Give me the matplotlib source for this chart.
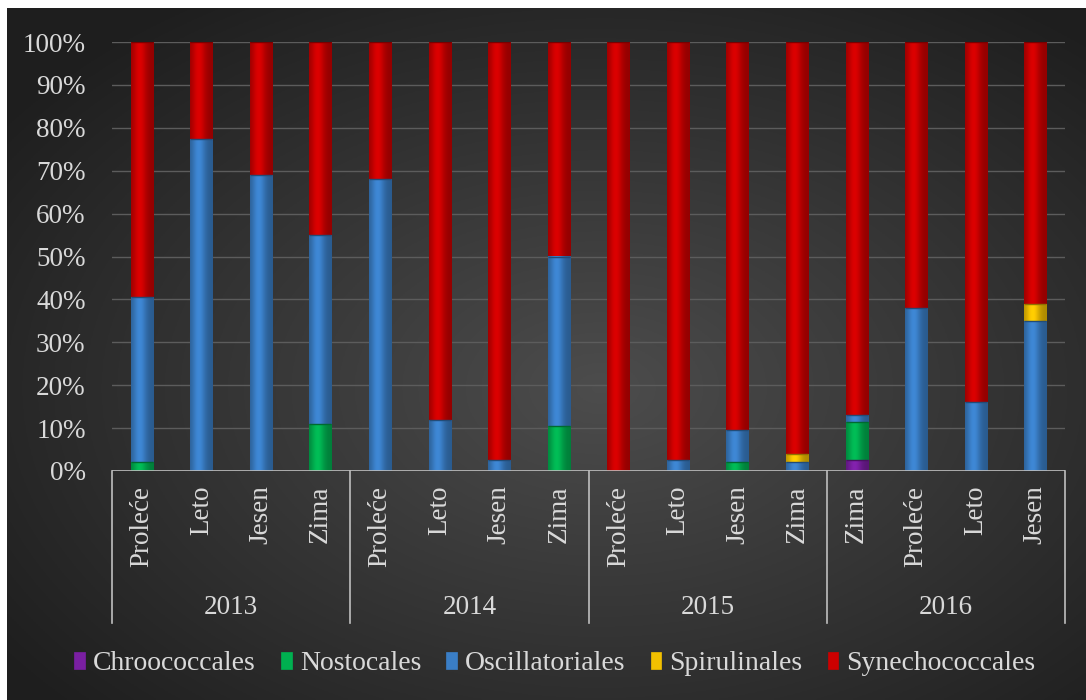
import numpy as np
import matplotlib.pyplot as plt
from matplotlib.colors import to_rgb

seasons = ["Proleće", "Leto", "Jesen", "Zima",
           "Proleće", "Leto", "Jesen", "Zima",
           "Proleće", "Leto", "Jesen", "Zima",
           "Zima", "Proleće", "Leto", "Jesen"]
years = ["2013", "2014", "2015", "2016"]

series_names = ["Chroococcales", "Nostocales", "Oscillatoriales", "Spirulinales", "Synechococcales"]
chroococcales   = [0, 0, 0, 0,    0, 0, 0, 0,      0, 0, 0, 0,      2.5, 0, 0, 0]
nostocales      = [2, 0, 0, 11,   0, 0, 0, 10.5,   0, 0, 2, 0,      9, 0, 0, 0]
oscillatoriales = [38.5, 77.5, 69, 44,  68, 12, 2.5, 39.5,  0, 2.5, 7.5, 2,  1.5, 38, 16, 35]
spirulinales    = [0, 0, 0, 0,    0, 0, 0, 0,      0, 0, 0, 2,      0, 0, 0, 4]
synechococcales = [59.5, 22.5, 31, 45,  32, 88, 97.5, 50,  100, 97.5, 90.5, 96,  87, 62, 84, 61]

colors = ["#7A1FA2", "#00B050", "#3A7EC6", "#F2C000", "#CC0000"]
text_col = "#D9D9D9"
serif = ["Liberation Serif", "DejaVu Serif"]
fs = 19.5

fig = plt.figure(figsize=(10.86, 7.0), dpi=100, facecolor="white")

# dark radial-gradient panel
bg = fig.add_axes([7 / 1086, 0, 1 - 7 / 1086, 1 - 8 / 700])
yy, xx = np.mgrid[0:1:300j, 0:1:450j]
r = np.sqrt(((xx - 0.55) / 0.75) ** 2 + ((yy - 0.45) / 0.75) ** 2)
shade = np.clip(0.30 - 0.20 * r, 0.12, 0.32)
bg.imshow(np.dstack([shade] * 3), aspect="auto", extent=[0, 1, 0, 1], origin="lower")
bg.set_axis_off()

ax = fig.add_axes([112 / 1086, 229 / 700, (1065 - 112) / 1086, (471 - 42) / 700])
ax.set_facecolor("none")

x = np.arange(len(seasons))
stack = [chroococcales, nostocales, oscillatoriales, spirulinales, synechococcales]
bottom = np.zeros(len(seasons))
handles = []
# cylinder-like shading across each bar
t = np.linspace(0, 1, 64)
profile = 0.72 + 0.36 * np.exp(-((t - 0.38) / 0.3) ** 2)
for name, vals, c in zip(series_names, stack, colors):
    vals = np.array(vals, dtype=float)
    b = ax.bar(x, vals, 0.37, bottom=bottom, color=c, edgecolor=c, linewidth=0.5,
               label=name, zorder=3)
    handles.append(b)
    rgb = np.array(to_rgb(c))
    grad = np.clip(profile[:, None] * rgb[None, :], 0, 1)[None, :, :]
    for p in b.patches:
        h = p.get_height()
        if h <= 0:
            continue
        x0, y0, w = p.get_x(), p.get_y(), p.get_width()
        ax.imshow(grad, extent=[x0, x0 + w, y0, y0 + h], aspect="auto",
                  interpolation="bilinear", zorder=3.5)
        # thin darker seam at the top of each segment
        ax.plot([x0, x0 + w], [y0 + h, y0 + h], color=rgb * 0.6, linewidth=1.0,
                zorder=3.6, solid_capstyle="butt")
    bottom += vals

ax.set_xlim(-0.5, len(seasons) - 0.5)
ax.set_ylim(0, 100)
ax.set_yticks(np.arange(0, 101, 10))
ax.set_yticklabels([f"{v}%" for v in range(0, 101, 10)], fontsize=fs,
                   color=text_col, family=serif)
ax.tick_params(axis="y", length=0, pad=19)
ax.tick_params(axis="x", length=0, labelbottom=False)
ax.grid(axis="y", color="#5C5C5C", linewidth=1, zorder=0)
for s in ax.spines.values():
    s.set_visible(False)
ax.axhline(0, color="#BFBFBF", linewidth=1.2, zorder=4)

# season labels
for xi, s in zip(x, seasons):
    ax.text(xi, -3.4, s, rotation=90, ha="center", va="top", fontsize=fs,
            color=text_col, family=serif, clip_on=False)

# group separators and year labels
for g in range(len(years) + 1):
    ax.plot([g * 4 - 0.5] * 2, [0, -35.5], color="#BFBFBF", linewidth=1.2,
            clip_on=False, zorder=4)
for g, yr in enumerate(years):
    ax.text(g * 4 + 1.5, -31.8, yr, ha="center", va="center", fontsize=fs,
            color=text_col, family=serif, clip_on=False)

leg = fig.legend(handles=handles, labels=series_names, loc="center",
                 bbox_to_anchor=(555 / 1086, 1 - 664 / 700), ncol=5, frameon=False,
                 prop={"family": serif, "size": 20}, handlelength=0.38, handleheight=0.55,
                 handletextpad=0.3, columnspacing=0.9, labelcolor=text_col)

fig.savefig("out.png", dpi=100, facecolor="white")
